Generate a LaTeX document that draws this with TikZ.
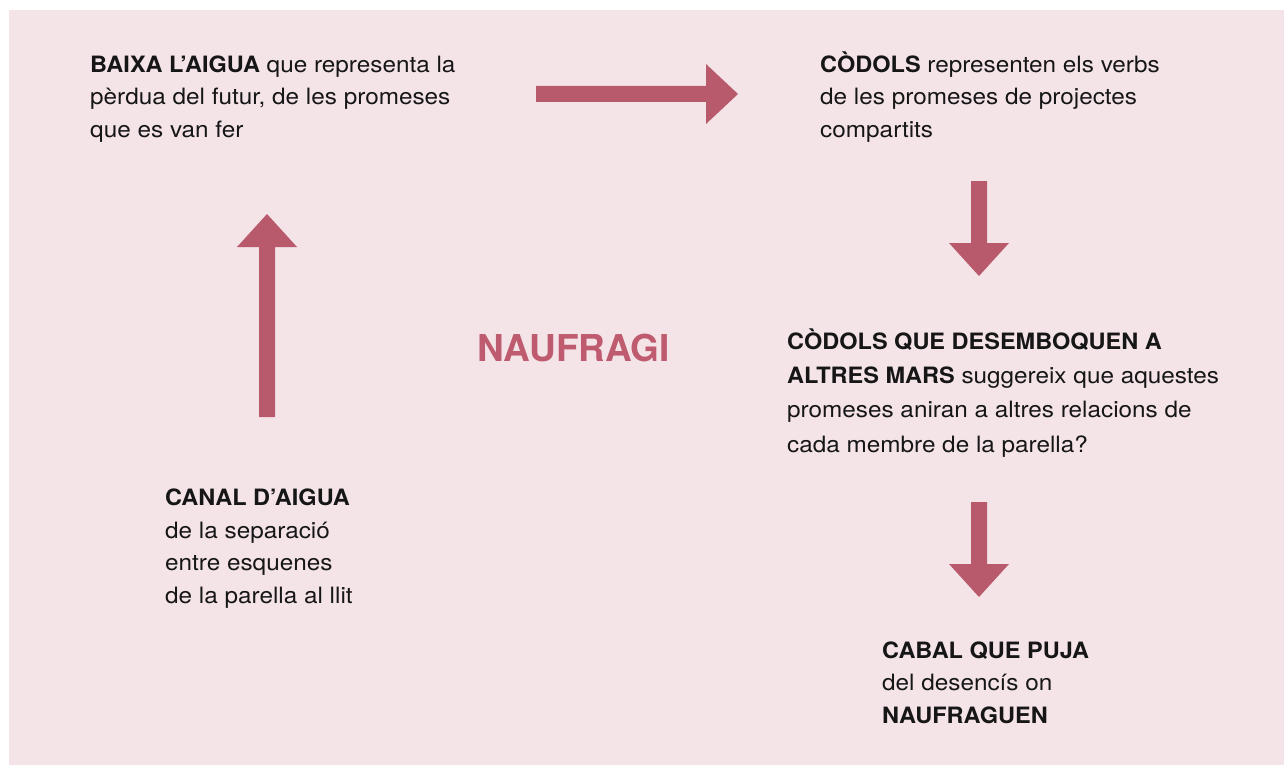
\documentclass[tikz,border=0pt]{standalone}
\usepackage{fontspec}
\setmainfont{TeX Gyre Heros}[UprightFeatures={FakeStretch=1.08},BoldFeatures={FakeStretch=1.045}]
\newfontfamily\titlefont{TeX Gyre Heros}
\definecolor{bgpink}{HTML}{F4E4E8}
\definecolor{arrowrose}{HTML}{B85A6B}
\definecolor{titlerose}{HTML}{BE5B6F}
\definecolor{txt}{HTML}{161616}
\begin{document}
\begin{tikzpicture}[x=1pt,y=-1pt,
  txtblock/.style={anchor=base west,inner sep=0pt,align=left,text=txt,
    font=\fontsize{22.5}{32.5}\selectfont},
  arrowfill/.style={fill=arrowrose}]
\useasboundingbox (0,0) rectangle (1284,765);
\fill[white] (0,0) rectangle (1284,765);
\fill[bgpink] (9,10) rectangle (1284,765);
% text blocks (anchored at the baseline of their last line)
\node[txtblock] (baixa) at (90,137) {\textbf{BAIXA L’AIGUA} que representa la\\pèrdua del futur, de les promeses\\que es van fer};
\node[txtblock] (codols) at (820,137) {\textbf{CÒDOLS} representen els verbs\\de les promeses de projectes\\compartits};
\node[txtblock,font=\fontsize{22.5}{34.3}\selectfont] (desemb) at (787,452) {\textbf{CÒDOLS QUE DESEMBOQUEN A}\\\textbf{ALTRES MARS} suggereix que aquestes\\promeses aniran a altres relacions de\\cada membre de la parella?};
\node[txtblock] (canal) at (165,603) {\textbf{CANAL D’AIGUA}\\de la separació\\entre esquenes\\de la parella al llit};
\node[txtblock] (cabal) at (882,723) {\textbf{CABAL QUE PUJA}\\del desencís on\\\textbf{NAUFRAGUEN}};
\node[anchor=base west,inner sep=0pt,text=titlerose,font=\titlefont\fontsize{37}{37}\selectfont\bfseries] (title) at (477,361) {NAUFRAGI};
% block arrows
\fill[arrowfill] (536,86) -- (706,86) -- (706,64) -- (738,94) -- (706,124) -- (706,102) -- (536,102) -- cycle;
\fill[arrowfill] (259,417) -- (259,247) -- (237,247) -- (267,214) -- (297,247) -- (275,247) -- (275,417) -- cycle;
\fill[arrowfill] (971,181) -- (971,243) -- (949,243) -- (979,276) -- (1009,243) -- (987,243) -- (987,181) -- cycle;
\fill[arrowfill] (971,502) -- (971,564) -- (949,564) -- (979,597) -- (1009,564) -- (987,564) -- (987,502) -- cycle;
\end{tikzpicture}
\end{document}
